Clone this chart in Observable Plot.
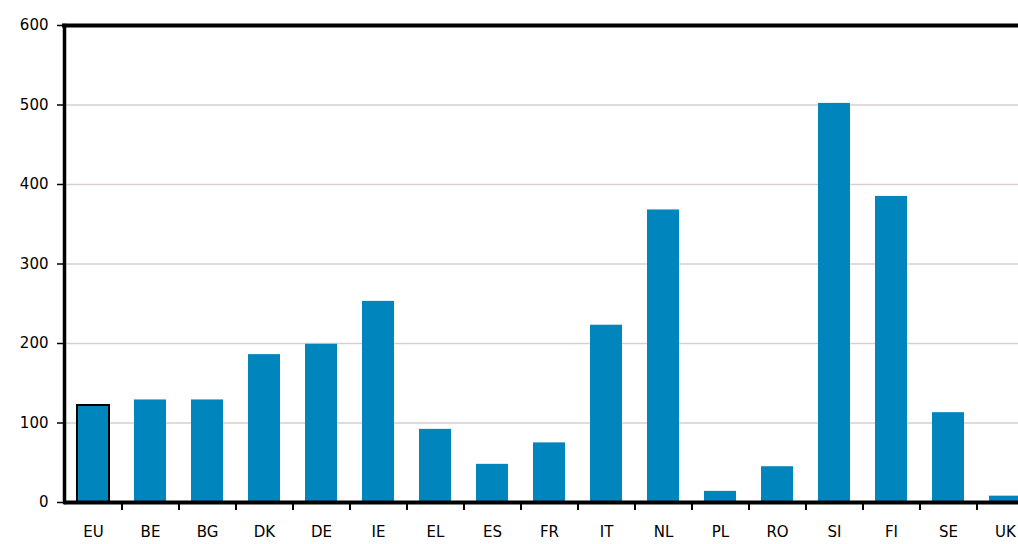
<!DOCTYPE html>
<html>
<head>
<meta charset="utf-8">
<script src="https://cdn.jsdelivr.net/npm/d3@7"></script>
<script src="https://cdn.jsdelivr.net/npm/@observablehq/plot@0.6"></script>
<style>
  html, body { margin: 0; padding: 0; background: #fff; overflow: hidden; }
  svg { display: block; }
</style>
</head>
<body>
<div id="chart"></div>
<script>
const countries = ["EU","BE","BG","DK","DE","IE","EL","ES","FR","IT","NL","PL","RO","SI","FI","SE","UK"];
const labels = ["EU","BE","BG","DK","DE","IE","EL","ES","FR","IT","NL","PL","RO","SI","FI","SE","UK"];
const values = [122, 129, 129, 186, 199, 253, 92, 48, 75, 223, 368, 14, 45, 502, 385, 113, 8];
const yTicks = [0, 100, 200, 300, 400, 500, 600];

const data = countries.map((c, i) => ({country: c, value: values[i], label: labels[i]}));

const chart = Plot.plot({
  width: 1018,
  height: 544,
  marginLeft: 64,
  marginRight: -15,
  marginTop: 25,
  marginBottom: 42,
  style: {fontFamily: "'DejaVu Sans', sans-serif", fontSize: "15px", color: "#000", background: "#fff"},
  x: {domain: countries, padding: 0.44, paddingOuter: 0.2, label: null},
  y: {domain: [0, 600], ticks: yTicks, label: null},
  marks: [
    Plot.gridY(yTicks.filter(t => t > 0 && t < 600), {stroke: "#d9cfcf", strokeOpacity: 1, strokeWidth: 1.5}),
    Plot.barY(data, {
      x: "country", y: "value", fill: "#0086bd",
      stroke: d => d.country === "EU" ? "#000" : "none", strokeWidth: 2
    }),
    Plot.ruleY([600], {stroke: "#000", strokeWidth: 4, dx: -2}),
    Plot.ruleY([0], {stroke: "#000", strokeWidth: 4}),
    Plot.frame({anchor: "left", stroke: "#000", strokeWidth: 3.5}),
    Plot.axisY({ticks: yTicks, tickSize: 7, tickPadding: 9, strokeWidth: 1.5, label: null}),
    Plot.axisX({tickSize: 0, tickPadding: 24, label: null, tickFormat: d => labels[countries.indexOf(d)]}),
    Plot.axisX(countries.slice(1), {text: null, tickSize: 6, dx: -28.5, dy: 2, strokeWidth: 2, label: null})
  ]
});

document.getElementById("chart").appendChild(chart);
</script>
</body>
</html>
